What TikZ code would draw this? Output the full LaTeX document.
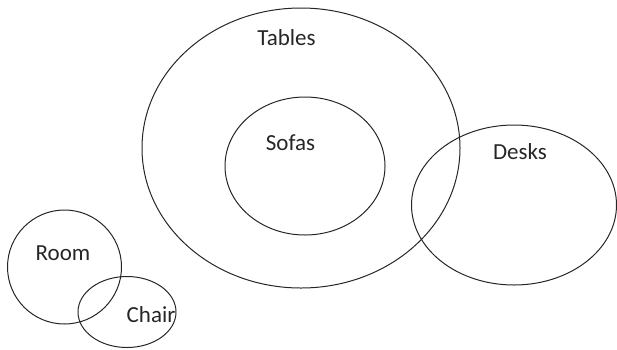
\documentclass[tikz,border=0pt]{standalone}
\usepackage{fontspec}
\setmainfont{Carlito}
\begin{document}
\begin{tikzpicture}[x=1pt,y=-1pt,
  setline/.style={draw=black!85,line width=1pt},
  lbl/.style={inner sep=0pt,font=\fontsize{23}{25}\selectfont,text=black!85}]
\useasboundingbox (0,0) rectangle (617,349);
\draw[setline] (301,148) ellipse [x radius=159, y radius=140];
\draw[setline] (305,166) ellipse [x radius=80, y radius=69];
\draw[setline] (514,205) ellipse [x radius=102.5, y radius=80];
\draw[setline] (64.5,267) circle [radius=57];
\draw[setline] (127,312) ellipse [x radius=49, y radius=35.5];
\node[lbl] (tables) at (286.5,38) {Tables};
\node[lbl] (sofas) at (290.5,143) {Sofas};
\node[lbl] (desks) at (520,152) {Desks};
\node[lbl] (room) at (63,253) {Room};
\node[lbl] (chair) at (151,315) {Chair};
\end{tikzpicture}
\end{document}
